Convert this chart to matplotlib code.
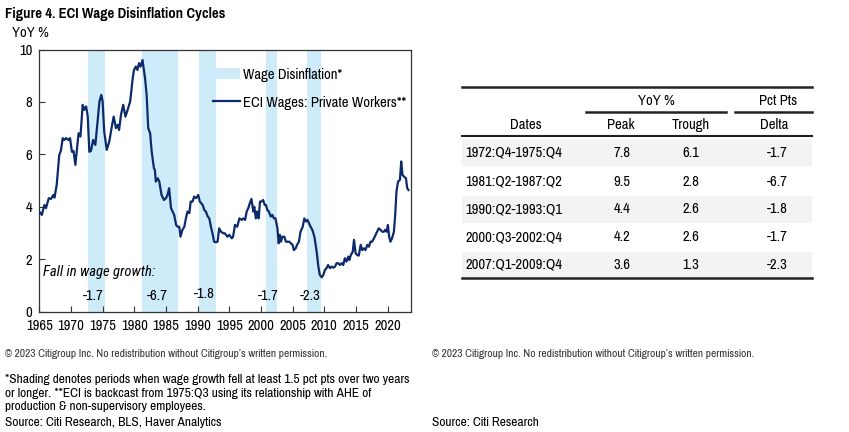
import matplotlib
matplotlib.use("Agg")
import matplotlib.pyplot as plt
from matplotlib import font_manager as fm
from matplotlib.patches import Patch, Rectangle
from matplotlib.lines import Line2D

# pick a narrow sans font if one is installed
installed = {f.name for f in fm.fontManager.ttflist}
narrow_pref = ['Liberation Sans Narrow', 'Arial Narrow', 'Pragati Narrow', 'Archivo Narrow',
               'Roboto Condensed', 'PT Sans Narrow', 'Liberation Sans']
font = next(f for f in narrow_pref if f in installed)
italic_pref = ['Liberation Sans Narrow', 'Arial Narrow', 'Roboto Condensed', 'Archivo Narrow',
               'Liberation Sans']
ifont = next(f for f in italic_pref if f in installed)
plt.rcParams['font.family'] = [font, 'DejaVu Sans']

# ECI wages, private workers, YoY %
years = [1965.0, 1965.4, 1965.8, 1966.05, 1966.5, 1966.85, 1967.2, 1967.4, 1967.75, 1968.15,
         1968.4, 1968.7, 1968.95, 1969.2, 1969.6, 1969.85, 1970.15, 1970.4, 1970.7, 1970.9,
         1971.2, 1971.5, 1971.85, 1972.1, 1972.4, 1972.65, 1972.9, 1973.15, 1973.5, 1973.85,
         1974.2, 1974.5, 1974.8, 1975.0, 1975.25, 1975.65, 1976.05, 1976.5, 1976.75, 1977.1,
         1977.4, 1977.6, 1977.9, 1978.25, 1978.6, 1978.95, 1979.35, 1979.75, 1979.95, 1980.25,
         1980.5, 1980.75, 1981.0, 1981.3, 1981.7, 1981.95, 1982.2, 1982.5, 1982.75, 1983.1,
         1983.25, 1983.4, 1983.7, 1983.95, 1984.3, 1984.7, 1985.0, 1985.25, 1985.5, 1985.8,
         1986.05, 1986.3, 1986.6, 1986.85, 1987.1, 1987.3, 1987.6, 1987.9, 1988.15, 1988.4,
         1988.7, 1988.9, 1989.2, 1989.45, 1989.75, 1990.1, 1990.35, 1990.8, 1991.05, 1991.3,
         1991.6, 1991.85, 1992.1, 1992.4, 1992.6, 1992.9, 1993.15, 1993.4, 1993.7, 1994.05,
         1994.3, 1994.7, 1995.0, 1995.4, 1995.6, 1995.9, 1996.25, 1996.6, 1996.95, 1997.2,
         1997.5, 1997.75, 1998.0, 1998.25, 1998.5, 1998.8, 1998.95, 1999.2, 1999.4, 1999.65,
         1999.85, 2000.1, 2000.35, 2000.6, 2000.8, 2001.0, 2001.25, 2001.55, 2001.8, 2002.05,
         2002.3, 2002.6, 2002.8, 2003.0, 2003.15, 2003.4, 2003.7, 2003.95, 2004.2, 2004.5,
         2004.7, 2005.0, 2005.2, 2005.5, 2005.7, 2006.0, 2006.25, 2006.6, 2006.85, 2007.1,
         2007.35, 2007.7, 2008.15, 2008.45, 2008.8, 2009.05, 2009.3, 2009.6, 2009.85, 2010.1,
         2010.35, 2010.6, 2010.9, 2011.15, 2011.4, 2011.7, 2011.95, 2012.2, 2012.45, 2012.75,
         2013.0, 2013.25, 2013.5, 2013.8, 2013.95, 2014.2, 2014.5, 2014.7, 2014.95, 2015.2,
         2015.45, 2015.75, 2016.0, 2016.25, 2016.5, 2016.8, 2017.05, 2017.3, 2017.55, 2017.85,
         2018.1, 2018.35, 2018.6, 2018.9, 2019.15, 2019.4, 2019.6, 2019.85, 2020.05, 2020.25,
         2020.45, 2020.7, 2021.0, 2021.2, 2021.4, 2021.65, 2021.95, 2022.15, 2022.35, 2022.6,
         2022.9, 2023.1, 2023.3]
eci = [3.82, 3.69, 4.07, 3.95, 4.33, 4.30, 4.45, 4.35, 4.84, 5.98,
       6.13, 6.62, 6.55, 6.62, 6.55, 6.62, 6.10, 6.13, 5.60, 6.10,
       6.81, 6.68, 7.89, 7.70, 7.83, 7.44, 6.10, 6.13, 6.55, 6.36,
       7.25, 8.02, 8.27, 8.02, 6.87, 6.17, 6.49, 7.13, 7.44, 7.00,
       7.13, 6.93, 7.51, 7.89, 7.44, 7.70, 8.02, 8.90, 9.22, 9.35,
       9.22, 9.48, 9.35, 9.60, 8.90, 8.27, 7.00, 6.81, 6.10, 5.47,
       5.41, 4.96, 5.09, 4.96, 4.45, 4.26, 4.33, 4.45, 4.71, 3.95,
       3.82, 3.69, 3.31, 3.24, 3.24, 2.86, 3.12, 3.24, 3.56, 3.82,
       3.76, 4.20, 4.20, 4.39, 4.33, 4.45, 4.20, 4.07, 3.88, 3.82,
       3.63, 3.56, 3.24, 2.93, 2.67, 2.65, 2.67, 3.18, 3.05, 2.99,
       2.99, 2.86, 2.93, 2.80, 2.86, 3.31, 3.24, 3.56, 3.50, 3.56,
       3.50, 3.82, 3.95, 4.14, 4.30, 3.82, 4.00, 3.56, 3.82, 3.56,
       4.20, 4.20, 4.26, 4.07, 4.07, 3.88, 3.82, 3.63, 3.69, 3.56,
       3.56, 3.18, 2.61, 2.93, 2.67, 2.86, 2.86, 2.67, 2.67, 2.67,
       2.61, 2.55, 2.35, 2.42, 2.55, 2.67, 3.05, 3.24, 3.56, 3.44,
       3.50, 3.31, 3.10, 2.85, 2.29, 1.75, 1.40, 1.31, 1.40, 1.59,
       1.66, 1.78, 1.66, 1.72, 1.68, 1.72, 1.85, 1.85, 1.78, 1.85,
       1.78, 2.04, 1.91, 2.10, 1.97, 2.16, 2.29, 2.74, 2.23, 2.16,
       2.14, 2.55, 2.35, 2.42, 2.35, 2.55, 2.48, 2.67, 2.67, 2.80,
       2.93, 3.05, 3.18, 3.12, 3.05, 3.05, 3.12, 3.05, 3.31, 2.86,
       2.67, 2.80, 3.05, 3.69, 4.58, 4.96, 5.03, 5.73, 5.22, 5.15,
       5.09, 4.71, 4.64]

# wage disinflation periods (start/end as decimal years)
shade_start = [1972.75, 1981.25, 1990.25, 2000.75, 2007.25]
shade_end = [1975.45, 1986.95, 1992.95, 2002.5, 2009.5]

# table
dates = ["1972:Q4-1975:Q4", "1981:Q2-1987:Q2", "1990:Q2-1993:Q1",
         "2000:Q3-2002:Q4", "2007:Q1-2009:Q4"]
peak = [7.8, 9.5, 4.4, 4.2, 3.6]
trough = [6.1, 2.8, 2.6, 2.6, 1.3]
delta = [-1.7, -6.7, -1.8, -1.7, -2.3]

shade_col = '#cdebf9'
line_col = '#0d2b6b'

W, H = 849, 432
fig = plt.figure(figsize=(W / 100, H / 100), dpi=100)

def fx(px):
    return px / W

def fy(py):
    return 1 - py / H

# ---- chart ----
ax = fig.add_axes([fx(39.3), fy(311.7), fx(410.7 - 39.3), (311.7 - 49.5) / H])
for s, e in zip(shade_start, shade_end):
    ax.axvspan(s, e, color=shade_col, lw=0, zorder=0)
ax.plot(years, eci, color=line_col, lw=1.6, zorder=3)

ax.set_xlim(1965, 2023.65)
ax.set_ylim(0, 10)
ax.set_xticks(range(1965, 2021, 5))
ax.set_yticks(range(0, 11, 2))
ax.tick_params(direction='in', length=4, width=0.8, labelsize=11.5, color='#333333', pad=5)
for sp in ax.spines.values():
    sp.set_linewidth(0.9)
    sp.set_color('#333333')

ax.text(1965.6, 1.52, "Fall in wage growth:", style='italic', fontsize=10.5, va='center',
        family=[ifont, 'DejaVu Sans'])
for s, e, d in zip(shade_start, shade_end, delta):
    yy = 0.68 if d == -1.8 else 0.58
    ax.text((s + e) / 2 - 0.5, yy, f"{d:.1f}", fontsize=11.5, ha='center', va='center')

handles = [Patch(facecolor=shade_col, edgecolor='none'),
           Line2D([], [], color=line_col, lw=1.6)]
ax.legend(handles, ["Wage Disinflation*", "ECI Wages: Private Workers**"],
          loc='upper left', bbox_to_anchor=((213 - 39.3) / 371.4, 0.93),
          frameon=False, fontsize=11.5, handlelength=1.7, handletextpad=0.15,
          labelspacing=0.85, borderaxespad=0, borderpad=0)

fig.text(fx(5), fy(14), "Figure 4. ECI Wage Disinflation Cycles", fontsize=11.5,
         fontweight='bold', va='center')
fig.text(fx(12), fy(33), "YoY %", fontsize=11.5, va='center')

# ---- table ----
tx0, tx1 = 461.7, 811.7
row_y = [152.7, 181.7, 209.3, 237.3, 265]
for i, ry in enumerate(row_y):
    if i % 2 == 0:
        fig.patches.append(Rectangle((fx(tx0), fy(ry + 13.5)), fx(tx1 - tx0), 27 / H,
                                     transform=fig.transFigure, facecolor='#f3f3f3',
                                     edgecolor='none', zorder=0))

def hline(x0, x1, y, lw):
    fig.add_artist(Line2D([fx(x0), fx(x1)], [fy(y), fy(y)], color='#222222', lw=lw))

hline(tx0, tx1, 87.3, 1.8)
hline(586, 726, 112.3, 1.8)
hline(735, tx1, 112.3, 1.8)
hline(tx0, tx1, 136, 1.5)
hline(tx0, tx1, 278.3, 1.8)

tfs = 11.5
fig.text(fx(656), fy(100.7), "YoY %", fontsize=tfs, ha='center', va='center')
fig.text(fx(778), fy(100.7), "Pct Pts", fontsize=tfs, ha='center', va='center')
fig.text(fx(526), fy(125), "Dates", fontsize=tfs, ha='center', va='center')
fig.text(fx(621), fy(125), "Peak", fontsize=tfs, ha='center', va='center')
fig.text(fx(691), fy(125), "Trough", fontsize=tfs, ha='center', va='center')
fig.text(fx(774), fy(125), "Delta", fontsize=tfs, ha='center', va='center')
for ry, d, p, t, dl in zip(row_y, dates, peak, trough, delta):
    fig.text(fx(465), fy(ry), d, fontsize=tfs, va='center')
    fig.text(fx(622), fy(ry), f"{p:.1f}", fontsize=tfs, ha='center', va='center')
    fig.text(fx(691), fy(ry), f"{t:.1f}", fontsize=tfs, ha='center', va='center')
    fig.text(fx(777), fy(ry), f"{dl:.1f}", fontsize=tfs, ha='center', va='center')

# ---- footers ----
copy_txt = "\u00a9 2023 Citigroup Inc. No redistribution without Citigroup\u2019s written permission."
fig.text(fx(5), fy(354), copy_txt, fontsize=9, color='#333333', va='center')
fig.text(fx(432), fy(354), copy_txt, fontsize=9, color='#333333', va='center')
foot = ("*Shading denotes periods when wage growth fell at least 1.5 pct pts over two years\n"
        "or longer. **ECI is backcast from 1975:Q3 using its relationship with AHE of\n"
        "production & non-supervisory employees.")
fig.text(fx(5), fy(374), foot, fontsize=10.5, va='top', linespacing=1.3)
fig.text(fx(5), fy(423), "Source: Citi Research, BLS, Haver Analytics", fontsize=10.5, va='center')
fig.text(fx(432), fy(423), "Source: Citi Research", fontsize=10.5, va='center')

fig.savefig("out.png", dpi=100)
